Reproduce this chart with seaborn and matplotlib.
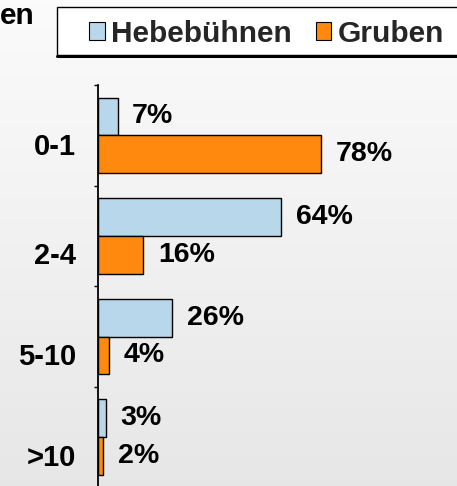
import numpy as np
import pandas as pd
import matplotlib
matplotlib.use("Agg")
import matplotlib.pyplot as plt
import matplotlib.transforms as mtransforms
import seaborn as sns
from matplotlib.patches import Patch, Rectangle

categories = ["0-1", "2-4", "5-10", ">10"]
series_names = ["Hebebühnen", "Gruben"]
hebebuehnen = [7, 64, 26, 3]
gruben = [78, 16, 4, 2]
title_fragment = "en"

colors = {"Hebebühnen": "#b8d7eb", "Gruben": "#ff890e"}

df = pd.DataFrame({
    "Kategorie": categories * 2,
    "Wert": hebebuehnen + gruben,
    "Serie": [series_names[0]] * len(categories) + [series_names[1]] * len(categories),
})

sns.set_theme(style="white")
plt.rcParams["font.family"] = ["Liberation Sans", "DejaVu Sans"]
plt.rcParams["font.weight"] = "bold"

W, H = 457, 486
fig = plt.figure(figsize=(W / 100, H / 100), dpi=100)

# background gradient
bg = fig.add_axes([0, 0, 1, 1], zorder=-10)
grad = np.linspace(0.985, 0.905, 256).reshape(-1, 1)
bg.imshow(np.dstack([grad, grad, grad]), aspect="auto", extent=[0, 1, 0, 1])
bg.set_axis_off()

ax_left, ax_top, ax_bottom = 97.5, 85, 487.5
ax = fig.add_axes([ax_left / W, (H - ax_bottom) / H, (W - ax_left) / W, (ax_bottom - ax_top) / H])
ax.patch.set_alpha(0)

sns.barplot(data=df, y="Kategorie", x="Wert", hue="Serie", orient="h",
            order=categories, hue_order=series_names, palette=colors, saturation=1,
            width=0.75, edgecolor="black", linewidth=1.0, ax=ax, legend=False)

ax.set_xlim(0, (W - ax_left) / 2.87)
ax.set_ylim(len(categories) - 0.5, -0.5)

for c in ax.containers:
    texts = ax.bar_label(c, labels=[f"{v:.0f}%" for v in c.datavalues], padding=10.5,
                         fontsize=20.5, fontweight="bold", color="black")
    for t in texts:
        t.set_transform(t.get_transform() + mtransforms.ScaledTranslation(0, -2 / 100, fig.dpi_scale_trans))

for s in ["top", "right", "bottom"]:
    ax.spines[s].set_visible(False)
ax.spines["left"].set_color("black")
ax.spines["left"].set_linewidth(1.3)
ax.set_xticks([])
ax.set_xlabel("")
ax.set_ylabel("")
ax.set_yticks(range(len(categories)))
ax.set_yticklabels(categories, fontsize=21, fontweight="bold", color="black")
ax.tick_params(axis="y", which="major", length=0, pad=15.5)
ax.set_yticks(np.arange(-0.5, len(categories), 1.0), minor=True)
ax.tick_params(axis="y", which="minor", length=3, width=1.0, color="black", direction="out", left=True)

label_offsets = [9, 17, 17, 18]
for lbl, off in zip(ax.get_yticklabels(), label_offsets):
    lbl.set_transform(lbl.get_transform() + mtransforms.ScaledTranslation(0, -off / 100, fig.dpi_scale_trans))

# legend frame (right edge runs past the figure border)
fig.add_artist(Rectangle((57 / W, 1 - 55 / H), 410 / W, 48 / H, transform=fig.transFigure,
                         facecolor="white", edgecolor="black", linewidth=1.0, zorder=1))
fig.add_artist(plt.Line2D([57 / W, 1.0], [1 - 55.8 / H] * 2, transform=fig.transFigure,
                          color="black", linewidth=2.2, zorder=2))

handles = [Patch(facecolor=colors[n], edgecolor="black", linewidth=0.8) for n in series_names]
leg = fig.legend(handles, series_names, loc="center left",
                 bbox_to_anchor=(89 / W, 1 - 33.5 / H), ncol=2,
                 prop={"family": "Liberation Sans", "weight": "bold", "size": 21.5},
                 frameon=False,
                 handlelength=0.52, handleheight=0.52, handletextpad=0.22,
                 columnspacing=0.8, borderpad=0, borderaxespad=0)
leg.set_zorder(3)

fig.text(0, 1 - 16 / H, title_fragment, ha="left", va="center",
         fontsize=21.5, fontweight="bold", color="black")

fig.savefig("out.png", dpi=100)
